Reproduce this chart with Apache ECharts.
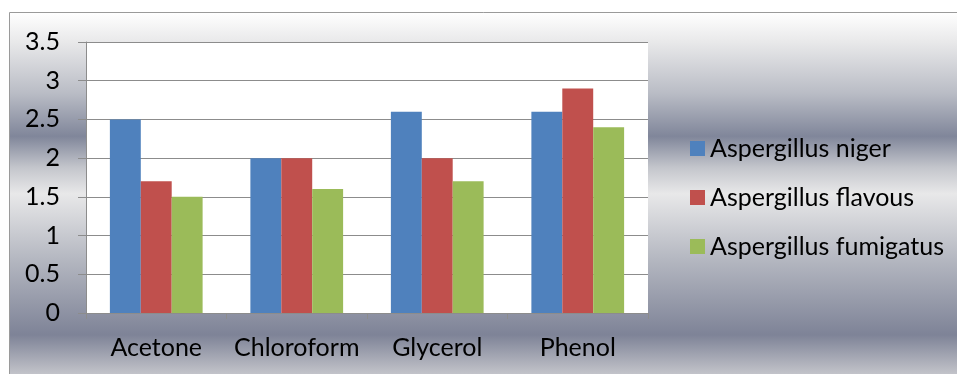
<!DOCTYPE html>
<html>
<head>
<meta charset="utf-8">
<script src="https://cdn.jsdelivr.net/npm/echarts@6/dist/echarts.min.js"></script>
<style>
  html, body { margin: 0; padding: 0; background: #ffffff; }
  #chart { width: 957px; height: 374px; }
</style>
</head>
<body>
<div id="chart"></div>
<script>
// Solvents tested and the three Aspergillus species
const categories = ['Acetone', 'Chloroform', 'Glycerol', 'Phenol'];
const nigerValues = [2.5, 2.0, 2.6, 2.6];
const flavousValues = [1.7, 2.0, 2.0, 2.9];
const fumigatusValues = [1.5, 1.6, 1.7, 2.4];
const yTicks = [0, 0.5, 1, 1.5, 2, 2.5, 3, 3.5];

const FONT = 'Lato';
const FONT_SIZE = 25;
const chart = echarts.init(document.getElementById('chart'), null, { renderer: 'canvas' });

// Silver, banded backdrop behind the whole chart frame
const backdrop = new echarts.graphic.LinearGradient(0, 0, 0, 1, [
  { offset: 0.00, color: '#ffffff' },
  { offset: 0.08, color: '#e9e9ea' },
  { offset: 0.22, color: '#b9bcc5' },
  { offset: 0.335, color: '#80869a' },
  { offset: 0.42, color: '#c4c6cc' },
  { offset: 0.49, color: '#e8e8e9' },
  { offset: 0.66, color: '#b6b9c2' },
  { offset: 0.87, color: '#7e8397' },
  { offset: 1.00, color: '#d2d2d5' }
]);

const series = [
  { name: 'Aspergillus niger', data: nigerValues, color: '#4f81bd' },
  { name: 'Aspergillus flavous', data: flavousValues, color: '#c0504d' },
  { name: 'Aspergillus fumigatus', data: fumigatusValues, color: '#9bbb59' }
].map(s => ({
  name: s.name,
  type: 'bar',
  data: s.data,
  barGap: '0%',
  barCategoryGap: '34%',
  itemStyle: { color: s.color },
  emphasis: { disabled: true }
}));

chart.setOption({
  animation: false,
  textStyle: { fontFamily: FONT },
  graphic: [
    {
      type: 'rect',
      z: -10,
      shape: { x: 9.5, y: 12.5, width: 960, height: 370 },
      style: { fill: backdrop, stroke: '#9a9a9a', lineWidth: 1 }
    }
  ],
  grid: {
    left: 86, right: 309, top: 42, bottom: 61,
    show: true, backgroundColor: '#ffffff', borderWidth: 0
  },
  legend: {
    orient: 'vertical',
    left: 690, top: 136,
    padding: 0,
    icon: 'rect',
    itemWidth: 15, itemHeight: 15,
    itemGap: 24,
    textStyle: { fontFamily: FONT, fontSize: FONT_SIZE, color: '#000000', lineHeight: 24 },
    selectedMode: false
  },
  xAxis: {
    type: 'category',
    data: categories,
    axisLine: { lineStyle: { color: '#8c8c8c', width: 1 } },
    axisTick: { show: true, length: 6, lineStyle: { color: '#8c8c8c' } },
    axisLabel: { color: '#000000', fontSize: FONT_SIZE, fontFamily: FONT, margin: 22, interval: 0 }
  },
  yAxis: {
    type: 'value',
    min: yTicks[0], max: yTicks[yTicks.length - 1], interval: 0.5,
    axisLine: { show: true, lineStyle: { color: '#8c8c8c', width: 1 } },
    axisTick: { show: true, length: 8, lineStyle: { color: '#8c8c8c' } },
    splitLine: { show: true, lineStyle: { color: '#8c8c8c', width: 1 } },
    axisLabel: { color: '#000000', fontSize: FONT_SIZE, fontFamily: FONT, margin: 26 }
  },
  series: series
});
</script>
</body>
</html>
